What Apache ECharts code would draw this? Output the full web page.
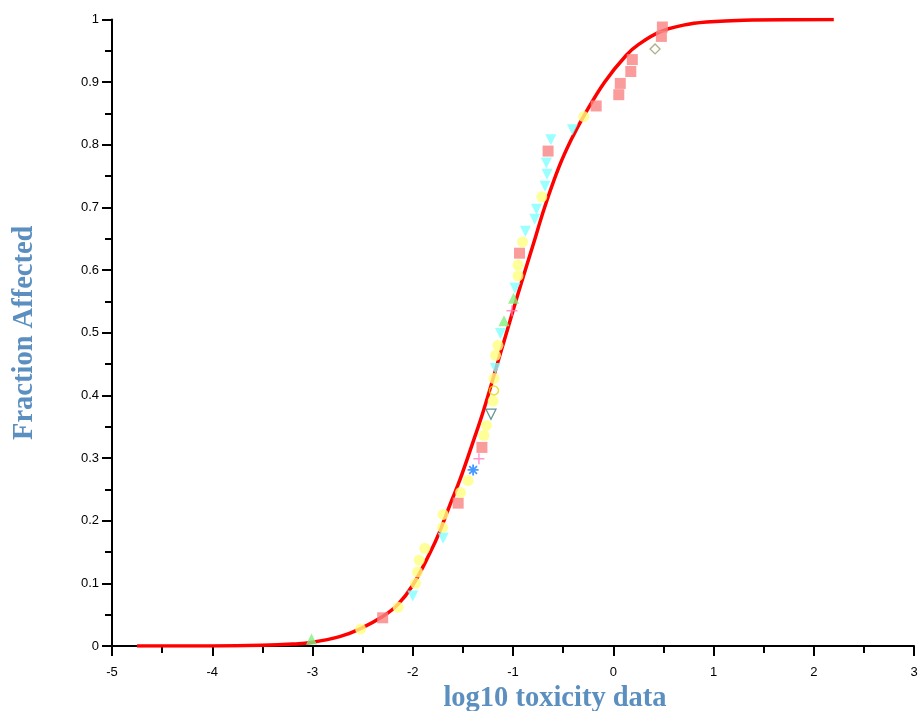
<!DOCTYPE html>
<html>
<head>
<meta charset="utf-8">
<script src="https://cdn.jsdelivr.net/npm/echarts@6/dist/echarts.min.js"></script>
<style>html,body{margin:0;padding:0;background:#fff}#c{width:919px;height:711px}</style>
</head>
<body>
<div id="c"></div>
<script>
// Fitted curve
const curveX = [-4.75, -4.0, -3.5, -3.2, -3.0, -2.73, -2.53, -2.3, -2.15, -2.0, -1.83, -1.73, -1.63, -1.53, -1.4, -1.29, -1.12, -1.0, -0.92, -0.8, -0.685, -0.54, -0.42, -0.29, -0.087, 0.13, 0.26, 0.46, 0.7, 0.93, 1.3, 2.2];
const curveY = [0.0, 0.0, 0.001, 0.003, 0.006, 0.015, 0.027, 0.047, 0.066, 0.097, 0.148, 0.183, 0.225, 0.265, 0.325, 0.378, 0.470, 0.535, 0.578, 0.640, 0.700, 0.765, 0.808, 0.847, 0.900, 0.943, 0.961, 0.980, 0.991, 0.996, 0.999, 1.0];

// Scatter groups
const squaresX = [0.49, 0.48, 0.19, 0.175, 0.07, 0.055, -0.17, -0.65, -0.935, -1.31, -1.547, -2.30];
const squaresY = [0.988, 0.973, 0.936, 0.917, 0.898, 0.880, 0.862, 0.790, 0.627, 0.317, 0.228, 0.045];
const circlesX = [-0.294, -0.713, -0.905, -0.95, -0.95, -1.15, -1.175, -1.19, -1.198, -1.265, -1.29, -1.448, -1.523, -1.697, -1.703, -1.88, -1.936, -1.952, -1.972, -2.146, -2.52];
const circlesY = [0.845, 0.717, 0.645, 0.608, 0.591, 0.480, 0.464, 0.427, 0.391, 0.352, 0.336, 0.264, 0.245, 0.210, 0.189, 0.156, 0.137, 0.118, 0.100, 0.062, 0.027];
const trisDownX = [-0.407, -0.623, -0.667, -0.66, -0.68, -0.766, -0.783, -0.876, -0.98, -1.125, -1.175, -1.697, -2.0];
const trisDownY = [0.824, 0.808, 0.771, 0.753, 0.734, 0.697, 0.681, 0.662, 0.571, 0.499, 0.443, 0.172, 0.080];
const trisUpX = [-0.995, -1.09, -3.01];
const trisUpY = [0.555, 0.519, 0.011];
const plusX = [-1.01, -1.34];
const plusY = [0.535, 0.299];
const asteriskX = [-1.398];
const asteriskY = [0.281];
const openCircleX = [-1.19];
const openCircleY = [0.408];
const openTriX = [-1.22];
const openTriY = [0.370];
const openDiamondX = [0.417];
const openDiamondY = [0.953];

const xTicks = { min: -5, max: 3, interval: 1 };
const yTicks = { min: 0, max: 1, interval: 0.1 };

function pts(xs, ys) { return xs.map((x, i) => [x, ys[i]]); }

const chart = echarts.init(document.getElementById('c'), null, { renderer: 'canvas' });
const axisCommon = {
  axisLine: { show: true, onZero: false, lineStyle: { color: '#000', width: 2 } },
  axisTick: { show: true, inside: false, length: 10, lineStyle: { color: '#000', width: 2 } },
  minorTick: { show: true, splitNumber: 2, length: 7, lineStyle: { color: '#000', width: 2 } },
  splitLine: { show: false },
  axisLabel: { color: '#000', fontFamily: 'Liberation Sans, Arial, sans-serif', fontSize: 13 }
};
const nameStyle = { color: '#5b8fc0', fontFamily: 'Liberation Serif, Times New Roman, serif', fontWeight: 'bold', fontSize: 28.5 };

chart.setOption({
  animation: false,
  backgroundColor: '#fff',
  grid: { left: 112, right: 5, top: 19.5, bottom: 65, containLabel: false, outerBoundsMode: 'none' },
  xAxis: Object.assign({}, axisCommon, {
    type: 'value', min: xTicks.min, max: xTicks.max, interval: xTicks.interval,
    name: 'log10 toxicity data', nameLocation: 'middle', nameGap: 37,
    nameTextStyle: Object.assign({}, nameStyle, { padding: [0, 0, 0, 84] }),
    axisLabel: Object.assign({}, axisCommon.axisLabel, { margin: 20 })
  }),
  yAxis: Object.assign({}, axisCommon, {
    type: 'value', min: yTicks.min, max: yTicks.max, interval: yTicks.interval,
    name: 'Fraction Affected', nameLocation: 'middle', nameGap: 73, nameRotate: 90,
    nameTextStyle: nameStyle,
    axisLabel: Object.assign({}, axisCommon.axisLabel, { margin: 13 })
  }),
  series: [
    { type: 'line', data: pts(curveX, curveY), smooth: 0.4, showSymbol: false, z: 1,
      lineStyle: { color: '#ff0000', width: 3.5 } },
    { type: 'scatter', data: pts(squaresX, squaresY), symbol: 'rect', symbolSize: 11, z: 3,
      itemStyle: { color: '#f98383' } },
    { type: 'scatter', data: pts(circlesX, circlesY), symbol: 'circle', symbolSize: 11, z: 3,
      itemStyle: { color: '#ffff80' } },
    { type: 'scatter', data: pts(trisDownX, trisDownY), symbol: 'triangle', symbolRotate: 180, symbolSize: 11, z: 3,
      itemStyle: { color: '#80ffff' } },
    { type: 'scatter', data: pts(trisUpX, trisUpY), symbol: 'triangle', symbolSize: 11, z: 3,
      itemStyle: { color: '#80f080' } },
    { type: 'scatter', data: pts(plusX, plusY), symbol: 'path://M5 0L5 10M0 5L10 5', symbolSize: 11, z: 3,
      itemStyle: { color: 'rgba(0,0,0,0)', borderColor: '#ff80c0', borderWidth: 1.5 } },
    { type: 'scatter', data: pts(asteriskX, asteriskY), symbol: 'path://M5 0L5 10M0 5L10 5M1.5 1.5L8.5 8.5M8.5 1.5L1.5 8.5', symbolSize: 11, z: 3,
      itemStyle: { color: 'rgba(0,0,0,0)', borderColor: '#1a80ff', borderWidth: 1.8 } },
    { type: 'scatter', data: pts(openCircleX, openCircleY), symbol: 'circle', symbolSize: 9, z: 3,
      itemStyle: { color: 'rgba(255,255,255,0)', borderColor: '#e8d800', borderWidth: 1.5 } },
    { type: 'scatter', data: pts(openTriX, openTriY), symbol: 'triangle', symbolRotate: 180, symbolSize: 10, z: 3,
      itemStyle: { color: '#fff', borderColor: '#3a7878', borderWidth: 1.3 } },
    { type: 'scatter', data: pts(openDiamondX, openDiamondY), symbol: 'diamond', symbolSize: 10, z: 3,
      itemStyle: { color: '#fff', borderColor: '#9a9a6a', borderWidth: 1.3 } }
  ]
});
</script>
</body>
</html>
